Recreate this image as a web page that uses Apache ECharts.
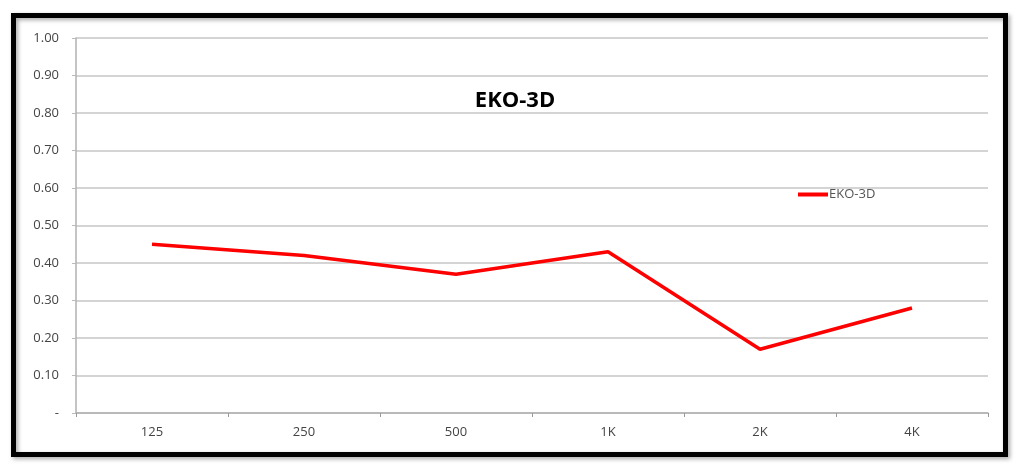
<!DOCTYPE html>
<html><head><meta charset="utf-8">
<script src="https://cdn.jsdelivr.net/npm/echarts@6/dist/echarts.min.js"></script>
<style>html,body{margin:0;padding:0;background:#fff}#c{width:1019px;height:468px}</style>
</head><body><div id="c"></div>
<script>
const categories = ['125', '250', '500', '1K', '2K', '4K'];
const seriesName = 'EKO-3D';
const values = [0.45, 0.42, 0.37, 0.43, 0.17, 0.28];
const titleText = 'EKO-3D';

const chart = echarts.init(document.getElementById('c'));
chart.setOption({
  backgroundColor: '#fff',
  animation: false,
  graphic: [{
    type: 'rect',
    shape: { x: 13.5, y: 15.5, width: 992, height: 439 },
    style: { fill: 'transparent', stroke: '#000', lineWidth: 5, shadowBlur: 4, shadowColor: 'rgba(0,0,0,0.35)', shadowOffsetX: 2, shadowOffsetY: 2 },
    z: 100
  }],
  title: {
    text: titleText,
    left: 510, top: 85, textAlign: 'center',
    textStyle: { fontFamily: 'Open Sans', fontWeight: 'bold', fontSize: 22, color: '#000' }
  },
  legend: {
    data: [seriesName],
    left: 793, top: 183,
    itemWidth: 30, itemHeight: 4, itemGap: 0,
    icon: 'rect',
    textStyle: { fontFamily: 'Open Sans', fontSize: 13, color: '#555', padding: [0, 0, 0, -4] }
  },
  grid: { left: 76, right: 31, top: 38, bottom: 55 },
  xAxis: {
    type: 'category',
    data: categories,
    boundaryGap: true,
    axisLine: { lineStyle: { color: '#b0b0b0', width: 1.5 } },
    axisTick: { show: true, length: 4, lineStyle: { color: '#999' } },
    axisLabel: { margin: 13, fontFamily: 'Open Sans', fontSize: 13, color: '#444' }
  },
  yAxis: {
    type: 'value',
    min: 0, max: 1, interval: 0.1,
    axisLine: { show: true, lineStyle: { color: '#b0b0b0', width: 1.5 } },
    axisTick: { show: true, length: 4, lineStyle: { color: '#bbb' } },
    splitLine: { lineStyle: { color: '#d4d4d4', width: 2 } },
    axisLabel: {
      margin: 17, fontFamily: 'Open Sans', fontSize: 13, color: '#444',
      formatter: v => v === 0 ? '-' : v.toFixed(2)
    }
  },
  series: [{
    name: seriesName,
    type: 'line',
    data: values,
    symbol: 'none',
    lineStyle: { color: '#ff0000', width: 3.5 },
    itemStyle: { color: '#ff0000' }
  }]
});
</script></body></html>
